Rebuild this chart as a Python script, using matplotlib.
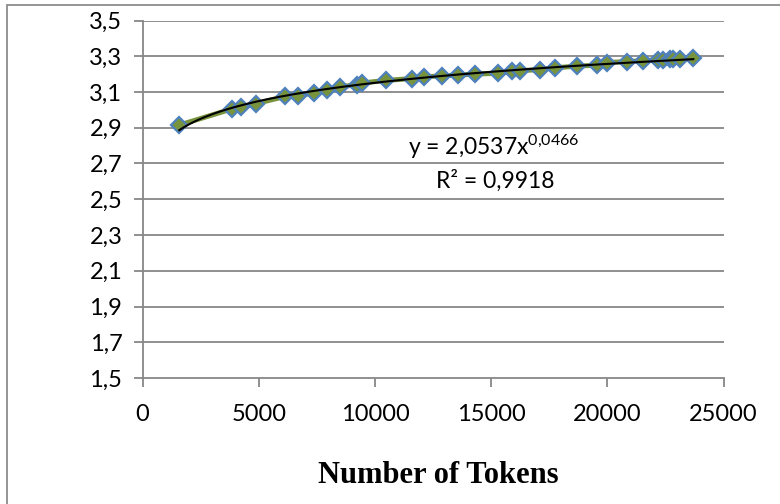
import numpy as np
import matplotlib
matplotlib.use("Agg")
import matplotlib.pyplot as plt
from matplotlib.patches import Rectangle

tokens = [1583, 3838, 4238, 4884, 6132, 6704, 7393, 7926, 8498, 9217, 9432,
          10478, 11584, 12113, 12875, 13590, 14308, 15310, 15887, 16244,
          17105, 17750, 18684, 19545, 19975, 20835, 21550, 22195, 22410,
          22698, 22840, 23128, 23700]
values = [2.915, 3.005, 3.015, 3.035, 3.075, 3.08, 3.095, 3.11, 3.13, 3.14, 3.15,
          3.165, 3.175, 3.185, 3.19, 3.195, 3.20, 3.205, 3.215, 3.22,
          3.225, 3.235, 3.245, 3.25, 3.265, 3.27, 3.275, 3.28, 3.28,
          3.285, 3.285, 3.285, 3.29]
yticks = [1.5, 1.7, 1.9, 2.1, 2.3, 2.5, 2.7, 2.9, 3.1, 3.3, 3.5]
xticks = [0, 5000, 10000, 15000, 20000, 25000]
eq_text = "y = 2,0537x$^{0{,}0466}$"
r2_text = "R² = 0,9918"
xlabel = "Number of Tokens"

plt.rcParams['mathtext.fontset'] = 'custom'
plt.rcParams['mathtext.rm'] = 'Lato'
plt.rcParams['mathtext.default'] = 'regular'

fig = plt.figure(figsize=(7.8, 5.04), dpi=100)
ax = fig.add_axes([142.5/780, 1-378/504, (723.5-142.5)/780, (378-20.5)/504])

grid_c = '#878787'
x = np.array(tokens, float)
y = np.array(values, float)
ax.plot(x, y, color='#77933C', lw=3.6, zorder=2, solid_capstyle='round')
ax.plot(x, y, ls='none', marker='D', ms=8.5, mfc='#77933C', mec='#4F81BD',
        mew=1.6, zorder=3)
# power trendline fitted to the data
b, lna = np.polyfit(np.log(x), np.log(y), 1)
xf = np.linspace(x.min(), x.max(), 200)
ax.plot(xf, np.exp(lna) * xf**b, color='black', lw=1.5, zorder=4)

ax.set_xlim(0, 25000)
ax.set_ylim(1.5, 3.5)
ax.set_yticks(yticks)
ax.set_xticks(xticks)
ax.set_yticklabels([f"{v:.1f}".replace('.', ',') for v in yticks])
ax.set_xticklabels([str(v) for v in xticks])
for yt in yticks[1:]:
    ax.axhline(yt, color=grid_c, lw=1.3, zorder=1)
for s in ['top', 'right']:
    ax.spines[s].set_visible(False)
for s in ['left', 'bottom']:
    ax.spines[s].set_color(grid_c)
    ax.spines[s].set_linewidth(1.3)
ax.tick_params(axis='both', direction='out', length=6.5, width=1.3, color=grid_c,
               labelsize=17)
for lab in ax.get_xticklabels() + ax.get_yticklabels():
    lab.set_fontfamily('Lato')
ax.tick_params(axis='y', pad=8)
ax.tick_params(axis='x', pad=12)

fig.text(494/780, 1-155/504, eq_text, family='Lato', fontsize=16.5,
         ha='center', va='baseline')
fig.text(495/780, 1-188/504, r2_text, family='Lato', fontsize=16.5,
         ha='center', va='baseline')
fig.text(438/780, 1-483/504, xlabel, family='Liberation Serif',
         fontweight='bold', fontsize=22, ha='center', va='baseline')

fig.add_artist(Rectangle((7.3/780, -0.2), 1.5, 1.2 - 4.7/504, transform=fig.transFigure,
                         fill=False, edgecolor='#8c8c8c', lw=1.3))

fig.savefig('out.png', dpi=100)
